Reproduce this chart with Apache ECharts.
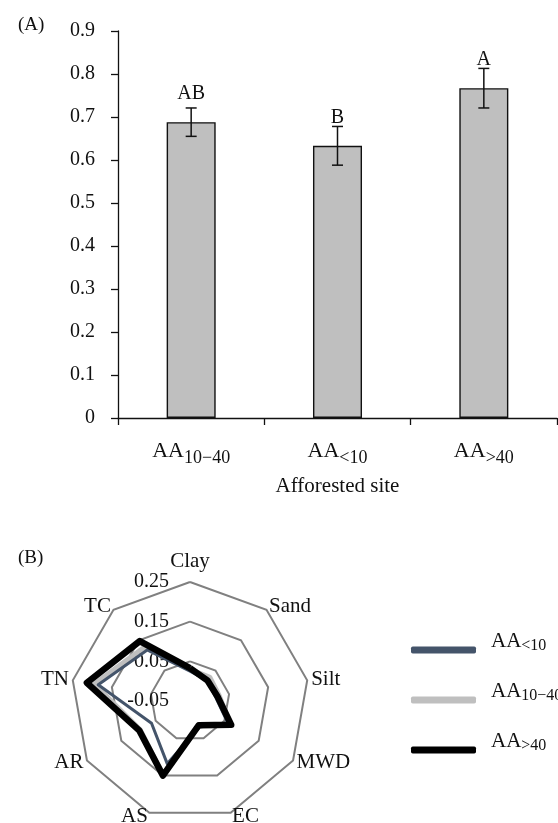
<!DOCTYPE html>
<html>
<head>
<meta charset="utf-8">
<script src="https://cdn.jsdelivr.net/npm/echarts@6/dist/echarts.min.js"></script>
<style>
  html, body { margin: 0; padding: 0; background: #fff; }
  #chart { width: 558px; height: 823px; }
</style>
</head>
<body>
<div id="chart"></div>
<script>
// ---- Panel A: bar chart of afforested sites ----
const siteSubs = ['10\u221240', '<10', '>40'];
const siteCats = siteSubs.map(s => 'AA' + s);
const barMeans = [0.688, 0.633, 0.767];
const barErrors = [0.033, 0.045, 0.046];
const barLetters = ['AB', 'B', 'A'];

// ---- Panel B: radar of soil properties (clockwise from Clay) ----
const radarAxes = ['Clay', 'Sand', 'Silt', 'MWD', 'EC', 'AS', 'AR', 'TN', 'TC'];
const radarTicks = [-0.05, 0.05, 0.15, 0.25];
const radarNames = ['AA<10', 'AA10\u221240', 'AA>40'];
const radarSubs = ['<10', '10\u221240', '>40'];
const aaLt10 = [0.025, 0.018, 0.015, 0.060, 0.020, 0.118, 0.062, 0.185, 0.118];
const aa10to40 = [0.030, 0.028, 0.025, 0.068, 0.016, 0.148, 0.095, 0.195, 0.128];
const aaGt40 = [0.033, 0.018, 0.020, 0.070, 0.015, 0.150, 0.098, 0.214, 0.147];

const SERIF = '"Liberation Serif", "Times New Roman", serif';
// distance from the upper error cap to the middle of each significance letter
const letterLift = [14, 8.5, 9];

// ECharts lays radar indicators out counter-clockwise; reorder so they run clockwise
const n = radarAxes.length;
const cwOrder = radarAxes.map((_, i) => (n - i) % n);
const cw = arr => cwOrder.map(k => arr[k]);

const subRich = (mainSize, subSize, drop) => ({
  m: { fontFamily: SERIF, fontSize: mainSize, color: '#111', lineHeight: mainSize + 4, verticalAlign: 'top' },
  s: { fontFamily: SERIF, fontSize: subSize, color: '#111', lineHeight: subSize + 2, verticalAlign: 'top', padding: [drop, 0, 0, 0] }
});

const chart = echarts.init(document.getElementById('chart'), null, { renderer: 'canvas' });

const option = {
  animation: false,
  backgroundColor: '#ffffff',
  title: [
    { text: '(A)', left: 13, top: 11, textStyle: { fontFamily: SERIF, fontSize: 19, fontWeight: 'normal', color: '#111' } },
    { text: '(B)', left: 13, top: 544, textStyle: { fontFamily: SERIF, fontSize: 19, fontWeight: 'normal', color: '#111' } }
  ],
  grid: { left: 118, right: 1, top: 31, bottom: 405, containLabel: false },
  xAxis: {
    type: 'category',
    data: siteCats,
    axisLine: { lineStyle: { color: '#111', width: 1.3 } },
    axisTick: { show: true, length: 7, lineStyle: { color: '#111', width: 1.3 } },
    axisLabel: {
      margin: 22,
      formatter: (v, i) => '{m|AA}{s|' + siteSubs[i] + '}',
      rich: subRich(22, 18, 9)
    },
    name: 'Afforested site',
    nameLocation: 'middle',
    nameGap: 58,
    nameTextStyle: { fontFamily: SERIF, fontSize: 21, color: '#111' }
  },
  yAxis: {
    type: 'value',
    min: 0,
    max: 0.9,
    interval: 0.1,
    axisLine: { show: true, lineStyle: { color: '#111', width: 1.3 } },
    axisTick: { show: true, length: 7, lineStyle: { color: '#111', width: 1.3 } },
    splitLine: { show: false },
    axisLabel: {
      margin: 23,
      fontFamily: SERIF,
      fontSize: 20,
      color: '#111',
      formatter: v => (v === 0 ? '0' : v.toFixed(1))
    }
  },
  radar: {
    center: [190, 701],
    radius: 119,
    startAngle: 90,
    splitNumber: 3,
    shape: 'polygon',
    indicator: cw(radarAxes).map((name, i) => {
      const ind = { name: name, min: radarTicks[0], max: radarTicks[radarTicks.length - 1] };
      if (i === 0) {
        ind.axisLabel = {
          show: true,
          margin: 21,
          fontFamily: SERIF,
          fontSize: 20,
          color: '#111',
          formatter: v => v.toFixed(2)
        };
      }
      return ind;
    }),
    axisName: { fontFamily: SERIF, fontSize: 21, color: '#111' },
    nameGap: 4,
    axisLine: { show: false },
    axisTick: { show: false },
    axisLabel: { show: false },
    splitLine: { lineStyle: { color: '#808080', width: 2 } },
    splitArea: { show: false }
  },
  legend: {
    orient: 'vertical',
    left: 406,
    top: 626,
    icon: 'roundRect',
    itemWidth: 65,
    itemHeight: 7,
    itemGap: 27,
    data: radarNames,
    formatter: name => '{m|AA}{s|' + radarSubs[radarNames.indexOf(name)] + '}',
    textStyle: {
      padding: [0, 0, 13, 10],
      rich: subRich(21, 16, 7)
    }
  },
  series: [
    {
      type: 'bar',
      data: barMeans,
      barWidth: '33.5%',
      itemStyle: { color: '#BFBFBF', borderColor: '#111', borderWidth: 1.4 },
      z: 2
    },
    {
      type: 'custom',
      data: barMeans.map((m, i) => [i, m, barErrors[i]]),
      z: 5,
      renderItem: (params, api) => {
        const idx = api.value(0);
        const mean = api.value(1);
        const err = api.value(2);
        const hi = api.coord([idx, mean + err]);
        const lo = api.coord([idx, mean - err]);
        const cap = 5.5;
        const style = { stroke: '#111', lineWidth: 1.5 };
        return {
          type: 'group',
          children: [
            { type: 'line', shape: { x1: hi[0], y1: hi[1], x2: lo[0], y2: lo[1] }, style: style },
            { type: 'line', shape: { x1: hi[0] - cap, y1: hi[1], x2: hi[0] + cap, y2: hi[1] }, style: style },
            { type: 'line', shape: { x1: lo[0] - cap, y1: lo[1], x2: lo[0] + cap, y2: lo[1] }, style: style },
            {
              type: 'text',
              style: {
                text: barLetters[params.dataIndex],
                x: hi[0],
                y: hi[1] - letterLift[params.dataIndex],
                textAlign: 'center',
                textVerticalAlign: 'middle',
                font: '20px ' + SERIF,
                fill: '#111'
              }
            }
          ]
        };
      }
    },
    {
      type: 'radar',
      symbol: 'none',
      data: [
        { name: radarNames[1], value: cw(aa10to40), lineStyle: { color: '#BFBFBF', width: 5 }, itemStyle: { color: '#BFBFBF' } },
        { name: radarNames[0], value: cw(aaLt10), lineStyle: { color: '#44546A', width: 3 }, itemStyle: { color: '#44546A' } },
        { name: radarNames[2], value: cw(aaGt40), lineStyle: { color: '#000000', width: 6.5 }, itemStyle: { color: '#000000' } }
      ]
    }
  ]
};

chart.setOption(option);
</script>
</body>
</html>
